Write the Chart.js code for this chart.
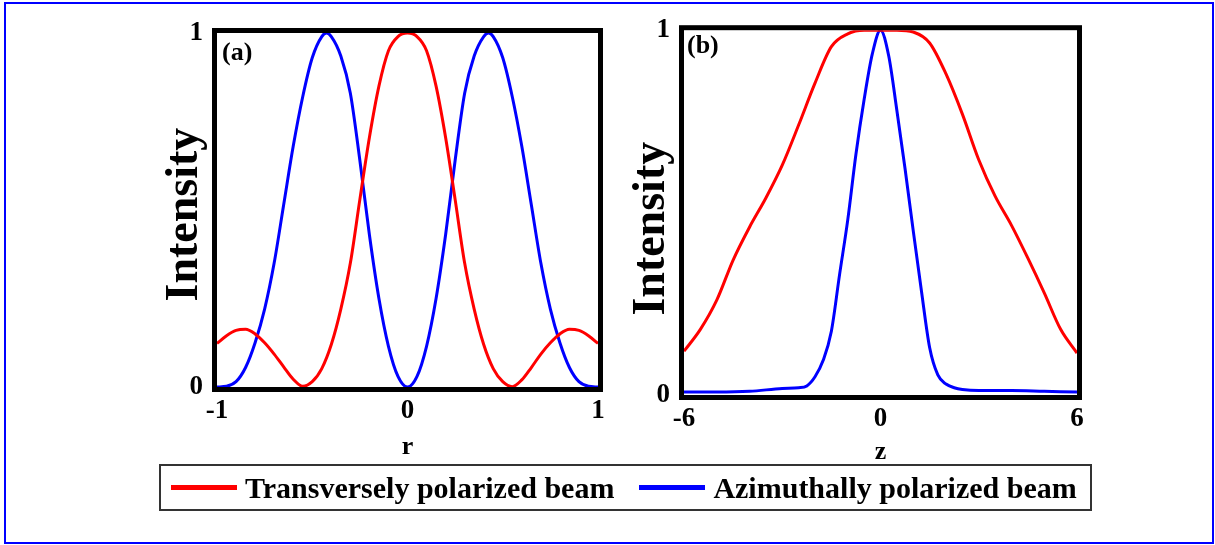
<!DOCTYPE html>
<html lang="en">
<head>
<meta charset="UTF-8">
<title>Intensity profiles</title>
<script src="https://cdn.jsdelivr.net/npm/chart.js@4.4.0/dist/chart.umd.min.js"></script>
<style>
  *{margin:0;padding:0;box-sizing:border-box;}
  body{background:#fff;width:1215px;height:545px;position:relative;overflow:hidden;font-family:'Liberation Serif','Times New Roman',serif;}
  #border{position:absolute;left:4px;top:2px;width:1210px;height:542px;border:2px solid #0000ff;}
  #chartA{position:absolute;left:150px;top:0;}
  #chartB{position:absolute;left:620px;top:0;}
  #legend{position:absolute;left:159px;top:464px;width:933px;height:47px;border:2px solid #333;
          display:flex;align-items:center;padding-left:10px;font-weight:bold;font-size:30px;color:#000;}
  #legend .item{display:flex;align-items:center;white-space:nowrap;}
  #legend .item + .item{margin-left:25px;}
  #legend .swatch{width:66px;height:5px;margin-right:8px;}
</style>
</head>
<body>
<div id="border"></div>
<canvas id="chartA" width="470" height="480"></canvas>
<canvas id="chartB" width="480" height="480"></canvas>
<div id="legend"></div>

<script>
// ---- data ----
const seriesNames  = ['Transversely polarized beam', 'Azimuthally polarized beam'];
const seriesColors = ['#ff0000', '#0000ff'];

// panel (a): intensity vs r
const rRed = [-1,-0.95,-0.9,-0.85,-0.8,-0.75,-0.7,-0.65,-0.6,-0.55,-0.5,-0.45,-0.4,-0.35,-0.3,-0.25,-0.2,-0.15,-0.1,-0.05,
              0,0.05,0.1,0.15,0.2,0.25,0.3,0.35,0.4,0.45,0.5,0.55,0.6,0.65,0.7,0.75,0.8,0.85,0.9,0.95,1];
const redA = [0.123,0.145,0.16,0.163,0.15,0.125,0.093,0.057,0.022,0.002,0.015,0.052,0.12,0.22,0.35,0.53,0.705,0.85,0.95,0.99,
              1.0,0.99,0.95,0.85,0.705,0.53,0.35,0.22,0.12,0.052,0.015,0.001,0.02,0.055,0.093,0.125,0.15,0.163,0.16,0.145,0.123];
const rBlue = [-1,-0.95,-0.9,-0.85,-0.8,-0.75,-0.7,-0.65,-0.6,-0.55,-0.5,-0.45,-0.425,-0.4,-0.35,-0.3,-0.25,-0.2,-0.15,-0.1,-0.05,
               0,0.05,0.1,0.15,0.2,0.25,0.3,0.35,0.4,0.425,0.45,0.5,0.55,0.6,0.65,0.7,0.75,0.8,0.85,0.9,0.95,1];
const blueA = [0,0.002,0.015,0.055,0.125,0.22,0.35,0.515,0.68,0.82,0.93,0.99,1.0,0.99,0.935,0.83,0.64,0.43,0.25,0.115,0.03,
               0,0.03,0.115,0.25,0.43,0.64,0.83,0.935,0.99,1.0,0.99,0.93,0.82,0.68,0.515,0.35,0.22,0.125,0.055,0.015,0.002,0];

// panel (b): intensity vs z
const zRed = [-6,-5.5,-5,-4.5,-4,-3.5,-3,-2.5,-2,-1.5,-1,-0.5,0,0.5,1,1.5,2,2.5,3,3.5,4,4.5,5,5.5,6];
const redB = [0.12,0.18,0.26,0.37,0.46,0.54,0.63,0.74,0.855,0.955,0.99,1.0,1.0,1.0,0.995,0.965,0.88,0.77,0.645,0.545,0.465,0.375,0.28,0.18,0.115];
const zBlue = [-6,-5,-4,-3,-2.5,-2.25,-2,-1.75,-1.5,-1.25,-1,-0.75,-0.5,-0.25,0,0.25,0.5,0.75,1,1.25,1.5,1.75,2,2.25,2.5,3,4,5,6];
const blueB = [0.008,0.008,0.01,0.018,0.02,0.025,0.05,0.095,0.175,0.33,0.48,0.66,0.81,0.935,1.0,0.93,0.78,0.62,0.45,0.285,0.13,0.055,0.03,0.02,0.015,0.012,0.012,0.01,0.008];

const serif = "'Liberation Serif','Times New Roman',serif";
const tickFont = {family: serif, size: 27, weight: 'bold'};

const toPoints = (xs, ys) => xs.map((x, i) => ({x, y: ys[i]}));

// black frame round the plot area plus the (a)/(b) tag
function framePlugin(tag, dx, dy) {
  return {
    id: 'panelFrame',
    afterDatasetsDraw(chart) {
      const {ctx, chartArea: a} = chart;
      ctx.save();
      ctx.strokeStyle = '#000';
      ctx.lineWidth = 5;
      ctx.strokeRect(a.left - 2.5, a.top - 2.5, a.right - a.left + 5, a.bottom - a.top + 5);
      ctx.fillStyle = '#000';
      ctx.font = 'bold 26px ' + serif;
      ctx.textBaseline = 'top';
      ctx.fillText(tag, a.left + dx, a.top + dy);
      ctx.restore();
    }
  };
}

function panel(id, p) {
  const line = (i, pts) => ({
    label: seriesNames[i], data: pts, borderColor: seriesColors[i], borderWidth: 3,
    pointRadius: 0, fill: false, cubicInterpolationMode: 'monotone'
  });
  return new Chart(document.getElementById(id), {
    type: 'line',
    data: { datasets: [line(0, p.red), line(1, p.blue)] },
    options: {
      responsive: false, animation: false, devicePixelRatio: 1,
      layout: { padding: p.pad },
      plugins: { legend: {display: false}, tooltip: {enabled: false} },
      scales: {
        x: {
          type: 'linear', min: p.xMin, max: p.xMax,
          grid: {display: false, drawTicks: false}, border: {display: false},
          ticks: {stepSize: p.xStep, color: '#000', font: tickFont, padding: 8, maxRotation: 0, autoSkip: false},
          title: {display: true, text: p.xTitle, color: '#000', font: {family: serif, size: 26, weight: 'bold'},
                  padding: {top: 0, bottom: 0}},
          afterFit: s => { s.height = p.xH; }
        },
        y: {
          min: 0, max: 1,
          grid: {display: false, drawTicks: false}, border: {display: false},
          ticks: {stepSize: 1, color: '#000', font: tickFont, padding: 14},
          // trailing thin/en spaces nudge the centred title down like the original
          title: {display: true, text: p.yTitle, color: '#000', font: {family: serif, size: 46, weight: 'bold'},
                  padding: {top: p.yTitlePad, bottom: 0}},
          afterFit: s => { s.width = p.yW; }
        }
      }
    },
    plugins: [framePlugin(p.tag, p.tagX, p.tagY)]
  });
}

panel('chartA', {
  red: toPoints(rRed, redA), blue: toPoints(rBlue, blueA),
  xMin: -1, xMax: 1, xStep: 1, xTitle: 'r', yTitle: 'Intensity\u2009',
  pad: {top: 33, right: 22, bottom: 17, left: 0}, xH: 76, yW: 67, yTitlePad: 8,
  tag: '(a)', tagX: 5, tagY: 7
});

panel('chartB', {
  red: toPoints(zRed, redB), blue: toPoints(zBlue, blueB),
  xMin: -6, xMax: 6, xStep: 6, xTitle: 'z', yTitle: 'Intensity\u2002\u2009',
  pad: {top: 28, right: 23, bottom: 12, left: 0}, xH: 73, yW: 64, yTitlePad: 5,
  tag: '(b)', tagX: 3, tagY: 3
});

// shared legend under both panels
const legend = document.getElementById('legend');
seriesNames.forEach((name, i) => {
  const item = document.createElement('div');
  item.className = 'item';
  item.innerHTML = `<span class="swatch" style="background:${seriesColors[i]}"></span><span>${name}</span>`;
  legend.appendChild(item);
});
</script>
</body>
</html>
